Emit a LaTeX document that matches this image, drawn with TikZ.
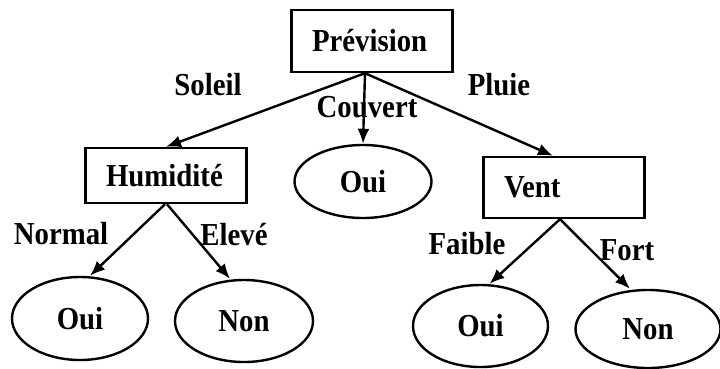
\documentclass[tikz,border=0pt]{standalone}
\usepackage{fontspec}
\setmainfont[FakeStretch=0.9]{Liberation Serif}
\usetikzlibrary{shapes.geometric,arrows.meta}

\begin{document}
\begin{tikzpicture}[x=1pt, y=-1pt, line width=2.4pt,
  every node/.style={font=\fontsize{32}{34}\selectfont\bfseries},
  box/.style={rectangle, draw, text width=120pt, align=left, inner xsep=20.5pt, inner ysep=0pt, minimum height=60pt},
  leaf/.style={ellipse, draw, inner sep=0pt, minimum width=137pt, minimum height=82pt},
  arr/.style={-{Latex[length=15pt,width=12pt]}},
  lbl/.style={inner sep=0pt}]
\useasboundingbox (0,0) rectangle (720,368);

% Decision nodes
\node[box, minimum height=62pt] (prev) at (372,41) {Prévision};
\node[box, minimum height=55pt] (hum) at (166,175.5) {Humidité};
\node[box, minimum height=61pt] (vent) at (564,187.5) {Vent};

% Leaves
\node[leaf, minimum height=73pt] (couv) at (363,181.5) {Oui};
\node[leaf, minimum width=136pt, minimum height=83pt] (houi) at (80,318.5) {Oui};
\node[leaf, minimum width=138pt] (hnon) at (244,321) {Non};
\node[leaf, minimum width=135pt] (voui) at (480.5,326) {Oui};
\node[leaf, minimum width=145pt, minimum height=78pt] (vnon) at (648,329) {Non};

% Branches
\draw[arr] ([xshift=-7pt]prev.south) -- (hum.north);
\draw[arr] ([xshift=-7pt]prev.south) -- (couv.north);
\draw[arr] ([xshift=-7pt]prev.south) -- ([xshift=-11pt]vent.north);
\draw[arr] ([xshift=-1pt]hum.south) -- ([xshift=10pt]houi.north);
\draw[arr] ([xshift=1pt]hum.south) -- ([xshift=-14pt]hnon.north);
\draw[arr] ([xshift=-4pt]vent.south) -- ([xshift=9pt]voui.north);
\draw[arr] ([xshift=-4pt]vent.south) -- ([xshift=-18pt]vnon.north);

% Branch labels
\node[lbl] (lsol) at (208,85) {Soleil};
\node[lbl] (lcouv) at (367,107) {Couvert};
\node[lbl] (lplu) at (499,85) {Pluie};
\node[lbl] (lnor) at (61,234) {Normal};
\node[lbl] (lele) at (234,235) {Elevé};
\node[lbl] (lfai) at (467,244) {Faible};
\node[lbl] (lfor) at (627,250) {Fort};
\end{tikzpicture}
\end{document}
